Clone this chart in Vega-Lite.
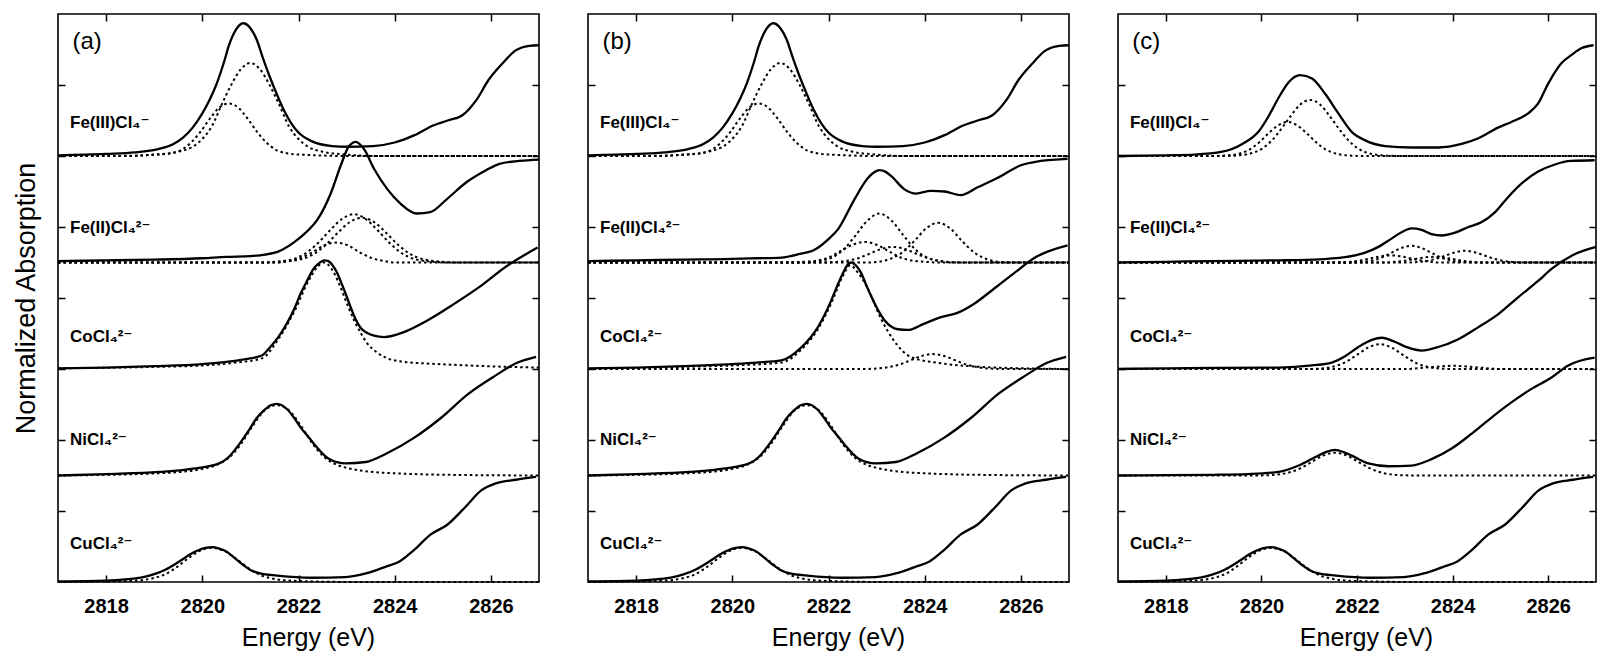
{
"$schema":"https://vega.github.io/schema/vega-lite/v6.json",
"background":"white",
"padding":{"left":11,"top":12,"right":0,"bottom":0},
"spacing":37,
"datasets":{
"solid":[
{"p":"ab","s":"FeIII","e":2817,"v":6.01},{"p":"ab","s":"FeIII","e":2818,"v":6.03},{"p":"ab","s":"FeIII","e":2818.6,"v":6.05},{"p":"ab","s":"FeIII","e":2819.1,"v":6.1},{"p":"ab","s":"FeIII","e":2819.4,"v":6.17},{"p":"ab","s":"FeIII","e":2819.6,"v":6.26},{"p":"ab","s":"FeIII","e":2819.8,"v":6.4},{"p":"ab","s":"FeIII","e":2820,"v":6.6},{"p":"ab","s":"FeIII","e":2820.15,"v":6.79},{"p":"ab","s":"FeIII","e":2820.3,"v":7.02},{"p":"ab","s":"FeIII","e":2820.45,"v":7.32},{"p":"ab","s":"FeIII","e":2820.55,"v":7.55},{"p":"ab","s":"FeIII","e":2820.7,"v":7.78},{"p":"ab","s":"FeIII","e":2820.85,"v":7.87},{"p":"ab","s":"FeIII","e":2821,"v":7.8},{"p":"ab","s":"FeIII","e":2821.13,"v":7.64},{"p":"ab","s":"FeIII","e":2821.25,"v":7.4},{"p":"ab","s":"FeIII","e":2821.4,"v":7.12},{"p":"ab","s":"FeIII","e":2821.55,"v":6.87},{"p":"ab","s":"FeIII","e":2821.7,"v":6.64},{"p":"ab","s":"FeIII","e":2821.85,"v":6.46},{"p":"ab","s":"FeIII","e":2822,"v":6.33},{"p":"ab","s":"FeIII","e":2822.27,"v":6.21},{"p":"ab","s":"FeIII","e":2822.7,"v":6.14},{"p":"ab","s":"FeIII","e":2823,"v":6.13},{"p":"ab","s":"FeIII","e":2823.55,"v":6.14},{"p":"ab","s":"FeIII","e":2824,"v":6.19},{"p":"ab","s":"FeIII","e":2824.4,"v":6.29},{"p":"ab","s":"FeIII","e":2824.8,"v":6.43},{"p":"ab","s":"FeIII","e":2825.1,"v":6.5},{"p":"ab","s":"FeIII","e":2825.4,"v":6.57},{"p":"ab","s":"FeIII","e":2825.7,"v":6.79},{"p":"ab","s":"FeIII","e":2825.95,"v":7.07},{"p":"ab","s":"FeIII","e":2826.25,"v":7.31},{"p":"ab","s":"FeIII","e":2826.5,"v":7.48},{"p":"ab","s":"FeIII","e":2826.8,"v":7.55},{"p":"ab","s":"FeIII","e":2827,"v":7.56},
{"p":"a","s":"FeII","e":2817,"v":4.52},{"p":"a","s":"FeII","e":2818,"v":4.53},{"p":"a","s":"FeII","e":2819,"v":4.54},{"p":"a","s":"FeII","e":2820,"v":4.56},{"p":"a","s":"FeII","e":2820.5,"v":4.58},{"p":"a","s":"FeII","e":2821,"v":4.59},{"p":"a","s":"FeII","e":2821.3,"v":4.61},{"p":"a","s":"FeII","e":2821.6,"v":4.66},{"p":"a","s":"FeII","e":2821.92,"v":4.79},{"p":"a","s":"FeII","e":2822.15,"v":4.92},{"p":"a","s":"FeII","e":2822.4,"v":5.11},{"p":"a","s":"FeII","e":2822.68,"v":5.49},{"p":"a","s":"FeII","e":2822.88,"v":5.87},{"p":"a","s":"FeII","e":2823.05,"v":6.14},{"p":"a","s":"FeII","e":2823.19,"v":6.2},{"p":"a","s":"FeII","e":2823.36,"v":6.1},{"p":"a","s":"FeII","e":2823.57,"v":5.82},{"p":"a","s":"FeII","e":2823.85,"v":5.53},{"p":"a","s":"FeII","e":2824.12,"v":5.33},{"p":"a","s":"FeII","e":2824.46,"v":5.19},{"p":"a","s":"FeII","e":2824.74,"v":5.21},{"p":"a","s":"FeII","e":2825.08,"v":5.39},{"p":"a","s":"FeII","e":2825.49,"v":5.63},{"p":"a","s":"FeII","e":2825.9,"v":5.8},{"p":"a","s":"FeII","e":2826.18,"v":5.89},{"p":"a","s":"FeII","e":2826.59,"v":5.93},{"p":"a","s":"FeII","e":2827,"v":5.95},
{"p":"a","s":"Co","e":2817,"v":3.01},{"p":"a","s":"Co","e":2818,"v":3.02},{"p":"a","s":"Co","e":2819,"v":3.04},{"p":"a","s":"Co","e":2820,"v":3.07},{"p":"a","s":"Co","e":2820.5,"v":3.1},{"p":"a","s":"Co","e":2820.9,"v":3.14},{"p":"a","s":"Co","e":2821.24,"v":3.19},{"p":"a","s":"Co","e":2821.4,"v":3.3},{"p":"a","s":"Co","e":2821.58,"v":3.45},{"p":"a","s":"Co","e":2821.92,"v":3.86},{"p":"a","s":"Co","e":2822.05,"v":4.07},{"p":"a","s":"Co","e":2822.2,"v":4.27},{"p":"a","s":"Co","e":2822.3,"v":4.4},{"p":"a","s":"Co","e":2822.41,"v":4.48},{"p":"a","s":"Co","e":2822.54,"v":4.53},{"p":"a","s":"Co","e":2822.62,"v":4.52},{"p":"a","s":"Co","e":2822.71,"v":4.46},{"p":"a","s":"Co","e":2822.8,"v":4.36},{"p":"a","s":"Co","e":2822.88,"v":4.23},{"p":"a","s":"Co","e":2822.98,"v":4.06},{"p":"a","s":"Co","e":2823.09,"v":3.86},{"p":"a","s":"Co","e":2823.18,"v":3.71},{"p":"a","s":"Co","e":2823.29,"v":3.58},{"p":"a","s":"Co","e":2823.42,"v":3.51},{"p":"a","s":"Co","e":2823.57,"v":3.47},{"p":"a","s":"Co","e":2823.78,"v":3.45},{"p":"a","s":"Co","e":2824.19,"v":3.52},{"p":"a","s":"Co","e":2824.67,"v":3.68},{"p":"a","s":"Co","e":2825.22,"v":3.91},{"p":"a","s":"Co","e":2825.77,"v":4.16},{"p":"a","s":"Co","e":2826.31,"v":4.44},{"p":"a","s":"Co","e":2826.97,"v":4.71},
{"p":"ab","s":"Ni","e":2817,"v":1.5},{"p":"ab","s":"Ni","e":2818,"v":1.52},{"p":"ab","s":"Ni","e":2819.1,"v":1.55},{"p":"ab","s":"Ni","e":2819.85,"v":1.6},{"p":"ab","s":"Ni","e":2820.35,"v":1.67},{"p":"ab","s":"Ni","e":2820.55,"v":1.76},{"p":"ab","s":"Ni","e":2820.7,"v":1.88},{"p":"ab","s":"Ni","e":2820.85,"v":2.02},{"p":"ab","s":"Ni","e":2821,"v":2.17},{"p":"ab","s":"Ni","e":2821.12,"v":2.3},{"p":"ab","s":"Ni","e":2821.27,"v":2.41},{"p":"ab","s":"Ni","e":2821.42,"v":2.49},{"p":"ab","s":"Ni","e":2821.55,"v":2.51},{"p":"ab","s":"Ni","e":2821.77,"v":2.43},{"p":"ab","s":"Ni","e":2821.9,"v":2.32},{"p":"ab","s":"Ni","e":2822.05,"v":2.17},{"p":"ab","s":"Ni","e":2822.2,"v":2.05},{"p":"ab","s":"Ni","e":2822.34,"v":1.93},{"p":"ab","s":"Ni","e":2822.62,"v":1.74},{"p":"ab","s":"Ni","e":2822.98,"v":1.67},{"p":"ab","s":"Ni","e":2823.4,"v":1.69},{"p":"ab","s":"Ni","e":2823.83,"v":1.81},{"p":"ab","s":"Ni","e":2824.4,"v":2.03},{"p":"ab","s":"Ni","e":2824.96,"v":2.31},{"p":"ab","s":"Ni","e":2825.53,"v":2.65},{"p":"ab","s":"Ni","e":2826.1,"v":2.91},{"p":"ab","s":"Ni","e":2826.52,"v":3.08},{"p":"ab","s":"Ni","e":2826.94,"v":3.17},
{"p":"abc","s":"Cu","e":2817,"v":0.01},{"p":"abc","s":"Cu","e":2818,"v":0.02},{"p":"abc","s":"Cu","e":2818.72,"v":0.06},{"p":"abc","s":"Cu","e":2819,"v":0.11},{"p":"abc","s":"Cu","e":2819.22,"v":0.17},{"p":"abc","s":"Cu","e":2819.57,"v":0.31},{"p":"abc","s":"Cu","e":2819.75,"v":0.39},{"p":"abc","s":"Cu","e":2819.93,"v":0.45},{"p":"abc","s":"Cu","e":2820.07,"v":0.48},{"p":"abc","s":"Cu","e":2820.21,"v":0.49},{"p":"abc","s":"Cu","e":2820.35,"v":0.47},{"p":"abc","s":"Cu","e":2820.5,"v":0.43},{"p":"abc","s":"Cu","e":2820.67,"v":0.34},{"p":"abc","s":"Cu","e":2820.85,"v":0.24},{"p":"abc","s":"Cu","e":2821,"v":0.17},{"p":"abc","s":"Cu","e":2821.2,"v":0.12},{"p":"abc","s":"Cu","e":2821.56,"v":0.09},{"p":"abc","s":"Cu","e":2822.27,"v":0.06},{"p":"abc","s":"Cu","e":2822.98,"v":0.07},{"p":"abc","s":"Cu","e":2823.4,"v":0.12},{"p":"abc","s":"Cu","e":2823.83,"v":0.22},{"p":"abc","s":"Cu","e":2824.1,"v":0.29},{"p":"abc","s":"Cu","e":2824.4,"v":0.45},{"p":"abc","s":"Cu","e":2824.75,"v":0.67},{"p":"abc","s":"Cu","e":2825.1,"v":0.81},{"p":"abc","s":"Cu","e":2825.46,"v":1.05},{"p":"abc","s":"Cu","e":2825.8,"v":1.29},{"p":"abc","s":"Cu","e":2826.1,"v":1.39},{"p":"abc","s":"Cu","e":2826.52,"v":1.44},{"p":"abc","s":"Cu","e":2826.94,"v":1.48},
{"p":"b","s":"FeII","e":2817,"v":4.52},{"p":"b","s":"FeII","e":2818,"v":4.53},{"p":"b","s":"FeII","e":2819,"v":4.54},{"p":"b","s":"FeII","e":2820,"v":4.55},{"p":"b","s":"FeII","e":2820.5,"v":4.56},{"p":"b","s":"FeII","e":2821.02,"v":4.57},{"p":"b","s":"FeII","e":2821.4,"v":4.62},{"p":"b","s":"FeII","e":2821.71,"v":4.68},{"p":"b","s":"FeII","e":2822,"v":4.83},{"p":"b","s":"FeII","e":2822.2,"v":4.97},{"p":"b","s":"FeII","e":2822.54,"v":5.39},{"p":"b","s":"FeII","e":2822.82,"v":5.69},{"p":"b","s":"FeII","e":2822.95,"v":5.77},{"p":"b","s":"FeII","e":2823.06,"v":5.8},{"p":"b","s":"FeII","e":2823.18,"v":5.78},{"p":"b","s":"FeII","e":2823.3,"v":5.72},{"p":"b","s":"FeII","e":2823.58,"v":5.53},{"p":"b","s":"FeII","e":2823.82,"v":5.47},{"p":"b","s":"FeII","e":2824.13,"v":5.51},{"p":"b","s":"FeII","e":2824.41,"v":5.5},{"p":"b","s":"FeII","e":2824.75,"v":5.45},{"p":"b","s":"FeII","e":2825.1,"v":5.56},{"p":"b","s":"FeII","e":2825.51,"v":5.69},{"p":"b","s":"FeII","e":2826,"v":5.87},{"p":"b","s":"FeII","e":2826.41,"v":5.93},{"p":"b","s":"FeII","e":2826.97,"v":5.96},
{"p":"b","s":"Co","e":2817,"v":3.01},{"p":"b","s":"Co","e":2818,"v":3.02},{"p":"b","s":"Co","e":2819,"v":3.04},{"p":"b","s":"Co","e":2820,"v":3.07},{"p":"b","s":"Co","e":2820.5,"v":3.09},{"p":"b","s":"Co","e":2821.02,"v":3.12},{"p":"b","s":"Co","e":2821.43,"v":3.3},{"p":"b","s":"Co","e":2821.78,"v":3.59},{"p":"b","s":"Co","e":2822.06,"v":3.97},{"p":"b","s":"Co","e":2822.18,"v":4.17},{"p":"b","s":"Co","e":2822.3,"v":4.35},{"p":"b","s":"Co","e":2822.38,"v":4.45},{"p":"b","s":"Co","e":2822.47,"v":4.5},{"p":"b","s":"Co","e":2822.58,"v":4.45},{"p":"b","s":"Co","e":2822.68,"v":4.35},{"p":"b","s":"Co","e":2822.78,"v":4.19},{"p":"b","s":"Co","e":2822.89,"v":4.02},{"p":"b","s":"Co","e":2823.16,"v":3.69},{"p":"b","s":"Co","e":2823.44,"v":3.56},{"p":"b","s":"Co","e":2823.65,"v":3.55},{"p":"b","s":"Co","e":2823.99,"v":3.64},{"p":"b","s":"Co","e":2824.34,"v":3.73},{"p":"b","s":"Co","e":2824.68,"v":3.79},{"p":"b","s":"Co","e":2825.03,"v":3.92},{"p":"b","s":"Co","e":2825.44,"v":4.13},{"p":"b","s":"Co","e":2825.86,"v":4.35},{"p":"b","s":"Co","e":2826.27,"v":4.56},{"p":"b","s":"Co","e":2826.97,"v":4.74},
{"p":"c","s":"FeIII","e":2817,"v":6},{"p":"c","s":"FeIII","e":2818,"v":6.01},{"p":"c","s":"FeIII","e":2818.6,"v":6.02},{"p":"c","s":"FeIII","e":2819.18,"v":6.06},{"p":"c","s":"FeIII","e":2819.6,"v":6.17},{"p":"c","s":"FeIII","e":2819.96,"v":6.36},{"p":"c","s":"FeIII","e":2820.15,"v":6.56},{"p":"c","s":"FeIII","e":2820.36,"v":6.82},{"p":"c","s":"FeIII","e":2820.57,"v":7.04},{"p":"c","s":"FeIII","e":2820.81,"v":7.14},{"p":"c","s":"FeIII","e":2821.06,"v":7.09},{"p":"c","s":"FeIII","e":2821.33,"v":6.88},{"p":"c","s":"FeIII","e":2821.61,"v":6.6},{"p":"c","s":"FeIII","e":2821.89,"v":6.34},{"p":"c","s":"FeIII","e":2822.17,"v":6.22},{"p":"c","s":"FeIII","e":2822.59,"v":6.14},{"p":"c","s":"FeIII","e":2823.14,"v":6.12},{"p":"c","s":"FeIII","e":2823.7,"v":6.12},{"p":"c","s":"FeIII","e":2824.19,"v":6.17},{"p":"c","s":"FeIII","e":2824.54,"v":6.25},{"p":"c","s":"FeIII","e":2824.95,"v":6.4},{"p":"c","s":"FeIII","e":2825.23,"v":6.48},{"p":"c","s":"FeIII","e":2825.58,"v":6.6},{"p":"c","s":"FeIII","e":2825.79,"v":6.74},{"p":"c","s":"FeIII","e":2826,"v":7.02},{"p":"c","s":"FeIII","e":2826.28,"v":7.31},{"p":"c","s":"FeIII","e":2826.48,"v":7.42},{"p":"c","s":"FeIII","e":2826.7,"v":7.52},{"p":"c","s":"FeIII","e":2826.95,"v":7.56},
{"p":"c","s":"FeII","e":2817,"v":4.5},{"p":"c","s":"FeII","e":2818,"v":4.51},{"p":"c","s":"FeII","e":2819,"v":4.52},{"p":"c","s":"FeII","e":2820.36,"v":4.53},{"p":"c","s":"FeII","e":2821.06,"v":4.54},{"p":"c","s":"FeII","e":2821.75,"v":4.575},{"p":"c","s":"FeII","e":2822.17,"v":4.64},{"p":"c","s":"FeII","e":2822.45,"v":4.72},{"p":"c","s":"FeII","e":2822.73,"v":4.84},{"p":"c","s":"FeII","e":2822.94,"v":4.93},{"p":"c","s":"FeII","e":2823.14,"v":4.98},{"p":"c","s":"FeII","e":2823.35,"v":4.96},{"p":"c","s":"FeII","e":2823.56,"v":4.9},{"p":"c","s":"FeII","e":2823.77,"v":4.88},{"p":"c","s":"FeII","e":2824.05,"v":4.92},{"p":"c","s":"FeII","e":2824.33,"v":5},{"p":"c","s":"FeII","e":2824.61,"v":5.07},{"p":"c","s":"FeII","e":2824.89,"v":5.21},{"p":"c","s":"FeII","e":2825.16,"v":5.42},{"p":"c","s":"FeII","e":2825.44,"v":5.61},{"p":"c","s":"FeII","e":2825.79,"v":5.78},{"p":"c","s":"FeII","e":2826.14,"v":5.88},{"p":"c","s":"FeII","e":2826.48,"v":5.93},{"p":"c","s":"FeII","e":2826.97,"v":5.94},
{"p":"c","s":"Co","e":2817,"v":3},{"p":"c","s":"Co","e":2818,"v":3.01},{"p":"c","s":"Co","e":2819,"v":3.015},{"p":"c","s":"Co","e":2820.36,"v":3.02},{"p":"c","s":"Co","e":2821.06,"v":3.05},{"p":"c","s":"Co","e":2821.47,"v":3.09},{"p":"c","s":"Co","e":2821.75,"v":3.18},{"p":"c","s":"Co","e":2822.03,"v":3.31},{"p":"c","s":"Co","e":2822.31,"v":3.41},{"p":"c","s":"Co","e":2822.52,"v":3.44},{"p":"c","s":"Co","e":2822.8,"v":3.38},{"p":"c","s":"Co","e":2823.07,"v":3.3},{"p":"c","s":"Co","e":2823.35,"v":3.26},{"p":"c","s":"Co","e":2823.7,"v":3.31},{"p":"c","s":"Co","e":2824.12,"v":3.42},{"p":"c","s":"Co","e":2824.54,"v":3.59},{"p":"c","s":"Co","e":2824.95,"v":3.77},{"p":"c","s":"Co","e":2825.37,"v":4.01},{"p":"c","s":"Co","e":2825.79,"v":4.24},{"p":"c","s":"Co","e":2826.07,"v":4.41},{"p":"c","s":"Co","e":2826.5,"v":4.6},{"p":"c","s":"Co","e":2827,"v":4.72},
{"p":"c","s":"Ni","e":2817,"v":1.5},{"p":"c","s":"Ni","e":2818,"v":1.505},{"p":"c","s":"Ni","e":2819,"v":1.51},{"p":"c","s":"Ni","e":2819.7,"v":1.52},{"p":"c","s":"Ni","e":2820.36,"v":1.55},{"p":"c","s":"Ni","e":2820.78,"v":1.64},{"p":"c","s":"Ni","e":2821.13,"v":1.76},{"p":"c","s":"Ni","e":2821.35,"v":1.83},{"p":"c","s":"Ni","e":2821.54,"v":1.86},{"p":"c","s":"Ni","e":2821.72,"v":1.83},{"p":"c","s":"Ni","e":2821.89,"v":1.78},{"p":"c","s":"Ni","e":2822.24,"v":1.67},{"p":"c","s":"Ni","e":2822.66,"v":1.63},{"p":"c","s":"Ni","e":2823.14,"v":1.64},{"p":"c","s":"Ni","e":2823.56,"v":1.73},{"p":"c","s":"Ni","e":2823.98,"v":1.88},{"p":"c","s":"Ni","e":2824.4,"v":2.09},{"p":"c","s":"Ni","e":2824.82,"v":2.32},{"p":"c","s":"Ni","e":2825.23,"v":2.53},{"p":"c","s":"Ni","e":2825.65,"v":2.72},{"p":"c","s":"Ni","e":2826.07,"v":2.88},{"p":"c","s":"Ni","e":2826.42,"v":3.05},{"p":"c","s":"Ni","e":2826.97,"v":3.16}
],
"comps":[
{"p":"ab","c":"FeIII1","e":2817,"v":6},{"p":"ab","c":"FeIII1","e":2818.05,"v":6},{"p":"ab","c":"FeIII1","e":2818.75,"v":6.01},{"p":"ab","c":"FeIII1","e":2819.25,"v":6.03},{"p":"ab","c":"FeIII1","e":2819.55,"v":6.08},{"p":"ab","c":"FeIII1","e":2819.75,"v":6.18},{"p":"ab","c":"FeIII1","e":2819.95,"v":6.33},{"p":"ab","c":"FeIII1","e":2820.15,"v":6.52},{"p":"ab","c":"FeIII1","e":2820.35,"v":6.68},{"p":"ab","c":"FeIII1","e":2820.55,"v":6.74},{"p":"ab","c":"FeIII1","e":2820.75,"v":6.68},{"p":"ab","c":"FeIII1","e":2820.95,"v":6.52},{"p":"ab","c":"FeIII1","e":2821.15,"v":6.33},{"p":"ab","c":"FeIII1","e":2821.35,"v":6.18},{"p":"ab","c":"FeIII1","e":2821.55,"v":6.08},{"p":"ab","c":"FeIII1","e":2821.85,"v":6.03},{"p":"ab","c":"FeIII1","e":2822.35,"v":6.01},{"p":"ab","c":"FeIII1","e":2823.05,"v":6},{"p":"ab","c":"FeIII1","e":2827,"v":6},
{"p":"ab","c":"FeIII2","e":2817,"v":6},{"p":"ab","c":"FeIII2","e":2818.5,"v":6},{"p":"ab","c":"FeIII2","e":2819,"v":6.02},{"p":"ab","c":"FeIII2","e":2819.5,"v":6.06},{"p":"ab","c":"FeIII2","e":2819.8,"v":6.13},{"p":"ab","c":"FeIII2","e":2820,"v":6.24},{"p":"ab","c":"FeIII2","e":2820.2,"v":6.42},{"p":"ab","c":"FeIII2","e":2820.4,"v":6.72},{"p":"ab","c":"FeIII2","e":2820.6,"v":7},{"p":"ab","c":"FeIII2","e":2820.8,"v":7.22},{"p":"ab","c":"FeIII2","e":2821,"v":7.31},{"p":"ab","c":"FeIII2","e":2821.2,"v":7.22},{"p":"ab","c":"FeIII2","e":2821.4,"v":7},{"p":"ab","c":"FeIII2","e":2821.6,"v":6.72},{"p":"ab","c":"FeIII2","e":2821.8,"v":6.42},{"p":"ab","c":"FeIII2","e":2822,"v":6.24},{"p":"ab","c":"FeIII2","e":2822.2,"v":6.13},{"p":"ab","c":"FeIII2","e":2822.5,"v":6.06},{"p":"ab","c":"FeIII2","e":2823,"v":6.02},{"p":"ab","c":"FeIII2","e":2823.5,"v":6},{"p":"ab","c":"FeIII2","e":2827,"v":6},
{"p":"a","c":"FeIIA","e":2817,"v":4.5},{"p":"a","c":"FeIIA","e":2821.15,"v":4.5},{"p":"a","c":"FeIIA","e":2821.65,"v":4.52},{"p":"a","c":"FeIIA","e":2821.9,"v":4.55},{"p":"a","c":"FeIIA","e":2822.15,"v":4.63},{"p":"a","c":"FeIIA","e":2822.4,"v":4.77},{"p":"a","c":"FeIIA","e":2822.65,"v":4.95},{"p":"a","c":"FeIIA","e":2822.9,"v":5.11},{"p":"a","c":"FeIIA","e":2823.15,"v":5.18},{"p":"a","c":"FeIIA","e":2823.4,"v":5.11},{"p":"a","c":"FeIIA","e":2823.65,"v":4.95},{"p":"a","c":"FeIIA","e":2823.9,"v":4.77},{"p":"a","c":"FeIIA","e":2824.15,"v":4.63},{"p":"a","c":"FeIIA","e":2824.4,"v":4.55},{"p":"a","c":"FeIIA","e":2824.65,"v":4.52},{"p":"a","c":"FeIIA","e":2825.15,"v":4.5},{"p":"a","c":"FeIIA","e":2827,"v":4.5},
{"p":"a","c":"FeIIB","e":2817,"v":4.5},{"p":"a","c":"FeIIB","e":2821.32,"v":4.5},{"p":"a","c":"FeIIB","e":2821.82,"v":4.52},{"p":"a","c":"FeIIB","e":2822.07,"v":4.55},{"p":"a","c":"FeIIB","e":2822.32,"v":4.62},{"p":"a","c":"FeIIB","e":2822.57,"v":4.75},{"p":"a","c":"FeIIB","e":2822.82,"v":4.92},{"p":"a","c":"FeIIB","e":2823.07,"v":5.07},{"p":"a","c":"FeIIB","e":2823.32,"v":5.13},{"p":"a","c":"FeIIB","e":2823.57,"v":5.07},{"p":"a","c":"FeIIB","e":2823.82,"v":4.92},{"p":"a","c":"FeIIB","e":2824.07,"v":4.75},{"p":"a","c":"FeIIB","e":2824.32,"v":4.62},{"p":"a","c":"FeIIB","e":2824.57,"v":4.55},{"p":"a","c":"FeIIB","e":2824.82,"v":4.52},{"p":"a","c":"FeIIB","e":2825.32,"v":4.5},{"p":"a","c":"FeIIB","e":2827,"v":4.5},
{"p":"a","c":"FeIIC","e":2817,"v":4.5},{"p":"a","c":"FeIIC","e":2821.53,"v":4.5},{"p":"a","c":"FeIIC","e":2821.78,"v":4.52},{"p":"a","c":"FeIIC","e":2822.03,"v":4.56},{"p":"a","c":"FeIIC","e":2822.28,"v":4.64},{"p":"a","c":"FeIIC","e":2822.53,"v":4.74},{"p":"a","c":"FeIIC","e":2822.78,"v":4.78},{"p":"a","c":"FeIIC","e":2823.03,"v":4.74},{"p":"a","c":"FeIIC","e":2823.28,"v":4.64},{"p":"a","c":"FeIIC","e":2823.53,"v":4.56},{"p":"a","c":"FeIIC","e":2823.78,"v":4.52},{"p":"a","c":"FeIIC","e":2824.03,"v":4.5},{"p":"a","c":"FeIIC","e":2827,"v":4.5},
{"p":"a","c":"Co1","e":2817,"v":3.01},{"p":"a","c":"Co1","e":2819,"v":3.03},{"p":"a","c":"Co1","e":2820,"v":3.05},{"p":"a","c":"Co1","e":2820.7,"v":3.09},{"p":"a","c":"Co1","e":2821.24,"v":3.15},{"p":"a","c":"Co1","e":2821.58,"v":3.42},{"p":"a","c":"Co1","e":2821.92,"v":3.82},{"p":"a","c":"Co1","e":2822.2,"v":4.23},{"p":"a","c":"Co1","e":2822.41,"v":4.45},{"p":"a","c":"Co1","e":2822.52,"v":4.5},{"p":"a","c":"Co1","e":2822.63,"v":4.46},{"p":"a","c":"Co1","e":2822.75,"v":4.34},{"p":"a","c":"Co1","e":2822.88,"v":4.14},{"p":"a","c":"Co1","e":2823.02,"v":3.9},{"p":"a","c":"Co1","e":2823.16,"v":3.68},{"p":"a","c":"Co1","e":2823.3,"v":3.5},{"p":"a","c":"Co1","e":2823.43,"v":3.36},{"p":"a","c":"Co1","e":2823.6,"v":3.25},{"p":"a","c":"Co1","e":2823.85,"v":3.15},{"p":"a","c":"Co1","e":2824.2,"v":3.1},{"p":"a","c":"Co1","e":2824.6,"v":3.08},{"p":"a","c":"Co1","e":2825.2,"v":3.06},{"p":"a","c":"Co1","e":2825.9,"v":3.04},{"p":"a","c":"Co1","e":2827,"v":3.02},
{"p":"ab","c":"Ni","e":2817,"v":1.5},{"p":"ab","c":"Ni","e":2818.05,"v":1.51},{"p":"ab","c":"Ni","e":2819.05,"v":1.53},{"p":"ab","c":"Ni","e":2819.55,"v":1.55},{"p":"ab","c":"Ni","e":2820.05,"v":1.6},{"p":"ab","c":"Ni","e":2820.3,"v":1.65},{"p":"ab","c":"Ni","e":2820.55,"v":1.75},{"p":"ab","c":"Ni","e":2820.8,"v":1.94},{"p":"ab","c":"Ni","e":2821.05,"v":2.2},{"p":"ab","c":"Ni","e":2821.3,"v":2.42},{"p":"ab","c":"Ni","e":2821.55,"v":2.49},{"p":"ab","c":"Ni","e":2821.8,"v":2.42},{"p":"ab","c":"Ni","e":2822.05,"v":2.2},{"p":"ab","c":"Ni","e":2822.3,"v":1.94},{"p":"ab","c":"Ni","e":2822.55,"v":1.75},{"p":"ab","c":"Ni","e":2822.8,"v":1.65},{"p":"ab","c":"Ni","e":2823.05,"v":1.6},{"p":"ab","c":"Ni","e":2823.55,"v":1.55},{"p":"ab","c":"Ni","e":2824.05,"v":1.53},{"p":"ab","c":"Ni","e":2825.05,"v":1.51},{"p":"ab","c":"Ni","e":2827,"v":1.5},
{"p":"abc","c":"Cu","e":2817,"v":0},{"p":"abc","c":"Cu","e":2818.2,"v":0.01},{"p":"abc","c":"Cu","e":2818.7,"v":0.025},{"p":"abc","c":"Cu","e":2818.95,"v":0.05},{"p":"abc","c":"Cu","e":2819.2,"v":0.1},{"p":"abc","c":"Cu","e":2819.45,"v":0.2},{"p":"abc","c":"Cu","e":2819.7,"v":0.33},{"p":"abc","c":"Cu","e":2819.95,"v":0.44},{"p":"abc","c":"Cu","e":2820.2,"v":0.48},{"p":"abc","c":"Cu","e":2820.45,"v":0.44},{"p":"abc","c":"Cu","e":2820.7,"v":0.33},{"p":"abc","c":"Cu","e":2820.95,"v":0.2},{"p":"abc","c":"Cu","e":2821.2,"v":0.1},{"p":"abc","c":"Cu","e":2821.45,"v":0.05},{"p":"abc","c":"Cu","e":2821.7,"v":0.025},{"p":"abc","c":"Cu","e":2822.2,"v":0.01},{"p":"abc","c":"Cu","e":2823.2,"v":0},{"p":"abc","c":"Cu","e":2827,"v":0},
{"p":"b","c":"FeIIA","e":2817,"v":4.5},{"p":"b","c":"FeIIA","e":2821.56,"v":4.5},{"p":"b","c":"FeIIA","e":2821.81,"v":4.52},{"p":"b","c":"FeIIA","e":2822.06,"v":4.565},{"p":"b","c":"FeIIA","e":2822.31,"v":4.68},{"p":"b","c":"FeIIA","e":2822.56,"v":4.88},{"p":"b","c":"FeIIA","e":2822.81,"v":5.09},{"p":"b","c":"FeIIA","e":2823.06,"v":5.19},{"p":"b","c":"FeIIA","e":2823.31,"v":5.09},{"p":"b","c":"FeIIA","e":2823.56,"v":4.88},{"p":"b","c":"FeIIA","e":2823.81,"v":4.68},{"p":"b","c":"FeIIA","e":2824.06,"v":4.565},{"p":"b","c":"FeIIA","e":2824.31,"v":4.52},{"p":"b","c":"FeIIA","e":2824.56,"v":4.5},{"p":"b","c":"FeIIA","e":2827,"v":4.5},
{"p":"b","c":"FeIIB","e":2817,"v":4.5},{"p":"b","c":"FeIIB","e":2822.78,"v":4.5},{"p":"b","c":"FeIIB","e":2823.03,"v":4.51},{"p":"b","c":"FeIIB","e":2823.28,"v":4.55},{"p":"b","c":"FeIIB","e":2823.53,"v":4.64},{"p":"b","c":"FeIIB","e":2823.78,"v":4.8},{"p":"b","c":"FeIIB","e":2824.03,"v":4.98},{"p":"b","c":"FeIIB","e":2824.28,"v":5.06},{"p":"b","c":"FeIIB","e":2824.53,"v":4.98},{"p":"b","c":"FeIIB","e":2824.78,"v":4.8},{"p":"b","c":"FeIIB","e":2825.03,"v":4.64},{"p":"b","c":"FeIIB","e":2825.28,"v":4.55},{"p":"b","c":"FeIIB","e":2825.53,"v":4.51},{"p":"b","c":"FeIIB","e":2825.78,"v":4.5},{"p":"b","c":"FeIIB","e":2827,"v":4.5},
{"p":"b","c":"FeIIC","e":2817,"v":4.5},{"p":"b","c":"FeIIC","e":2821.25,"v":4.5},{"p":"b","c":"FeIIC","e":2821.5,"v":4.51},{"p":"b","c":"FeIIC","e":2821.75,"v":4.525},{"p":"b","c":"FeIIC","e":2822,"v":4.57},{"p":"b","c":"FeIIC","e":2822.25,"v":4.66},{"p":"b","c":"FeIIC","e":2822.5,"v":4.75},{"p":"b","c":"FeIIC","e":2822.75,"v":4.79},{"p":"b","c":"FeIIC","e":2823,"v":4.75},{"p":"b","c":"FeIIC","e":2823.25,"v":4.66},{"p":"b","c":"FeIIC","e":2823.5,"v":4.57},{"p":"b","c":"FeIIC","e":2823.75,"v":4.525},{"p":"b","c":"FeIIC","e":2824,"v":4.51},{"p":"b","c":"FeIIC","e":2824.25,"v":4.5},{"p":"b","c":"FeIIC","e":2827,"v":4.5},
{"p":"b","c":"FeIID","e":2817,"v":4.5},{"p":"b","c":"FeIID","e":2821.84,"v":4.5},{"p":"b","c":"FeIID","e":2822.09,"v":4.505},{"p":"b","c":"FeIID","e":2822.34,"v":4.52},{"p":"b","c":"FeIID","e":2822.59,"v":4.555},{"p":"b","c":"FeIID","e":2822.84,"v":4.62},{"p":"b","c":"FeIID","e":2823.09,"v":4.69},{"p":"b","c":"FeIID","e":2823.34,"v":4.72},{"p":"b","c":"FeIID","e":2823.59,"v":4.69},{"p":"b","c":"FeIID","e":2823.84,"v":4.62},{"p":"b","c":"FeIID","e":2824.09,"v":4.555},{"p":"b","c":"FeIID","e":2824.34,"v":4.52},{"p":"b","c":"FeIID","e":2824.59,"v":4.505},{"p":"b","c":"FeIID","e":2824.84,"v":4.5},{"p":"b","c":"FeIID","e":2827,"v":4.5},
{"p":"b","c":"Co1","e":2817,"v":3},{"p":"b","c":"Co1","e":2819,"v":3.03},{"p":"b","c":"Co1","e":2820,"v":3.05},{"p":"b","c":"Co1","e":2821.02,"v":3.09},{"p":"b","c":"Co1","e":2821.43,"v":3.27},{"p":"b","c":"Co1","e":2821.78,"v":3.56},{"p":"b","c":"Co1","e":2822.06,"v":3.93},{"p":"b","c":"Co1","e":2822.3,"v":4.31},{"p":"b","c":"Co1","e":2822.45,"v":4.46},{"p":"b","c":"Co1","e":2822.62,"v":4.35},{"p":"b","c":"Co1","e":2822.82,"v":4.13},{"p":"b","c":"Co1","e":2823.09,"v":3.71},{"p":"b","c":"Co1","e":2823.37,"v":3.39},{"p":"b","c":"Co1","e":2823.71,"v":3.17},{"p":"b","c":"Co1","e":2824.34,"v":3.08},{"p":"b","c":"Co1","e":2825.17,"v":3.03},{"p":"b","c":"Co1","e":2826,"v":3.01},{"p":"b","c":"Co1","e":2827,"v":3},
{"p":"b","c":"Co2","e":2817,"v":3},{"p":"b","c":"Co2","e":2822.67,"v":3},{"p":"b","c":"Co2","e":2822.92,"v":3.004},{"p":"b","c":"Co2","e":2823.17,"v":3.018},{"p":"b","c":"Co2","e":2823.42,"v":3.052},{"p":"b","c":"Co2","e":2823.67,"v":3.113},{"p":"b","c":"Co2","e":2823.92,"v":3.18},{"p":"b","c":"Co2","e":2824.17,"v":3.21},{"p":"b","c":"Co2","e":2824.42,"v":3.18},{"p":"b","c":"Co2","e":2824.67,"v":3.113},{"p":"b","c":"Co2","e":2824.92,"v":3.052},{"p":"b","c":"Co2","e":2825.17,"v":3.018},{"p":"b","c":"Co2","e":2825.42,"v":3.004},{"p":"b","c":"Co2","e":2825.67,"v":3},{"p":"b","c":"Co2","e":2827,"v":3},
{"p":"c","c":"FeIII1","e":2817,"v":6},{"p":"c","c":"FeIII1","e":2818.95,"v":6},{"p":"c","c":"FeIII1","e":2819.25,"v":6.006},{"p":"c","c":"FeIII1","e":2819.55,"v":6.036},{"p":"c","c":"FeIII1","e":2819.75,"v":6.09},{"p":"c","c":"FeIII1","e":2819.95,"v":6.19},{"p":"c","c":"FeIII1","e":2820.15,"v":6.32},{"p":"c","c":"FeIII1","e":2820.35,"v":6.43},{"p":"c","c":"FeIII1","e":2820.55,"v":6.48},{"p":"c","c":"FeIII1","e":2820.75,"v":6.43},{"p":"c","c":"FeIII1","e":2820.95,"v":6.32},{"p":"c","c":"FeIII1","e":2821.15,"v":6.19},{"p":"c","c":"FeIII1","e":2821.35,"v":6.09},{"p":"c","c":"FeIII1","e":2821.55,"v":6.036},{"p":"c","c":"FeIII1","e":2821.85,"v":6.006},{"p":"c","c":"FeIII1","e":2822.15,"v":6},{"p":"c","c":"FeIII1","e":2827,"v":6},
{"p":"c","c":"FeIII2","e":2817,"v":6},{"p":"c","c":"FeIII2","e":2819.12,"v":6},{"p":"c","c":"FeIII2","e":2819.42,"v":6.005},{"p":"c","c":"FeIII2","e":2819.72,"v":6.027},{"p":"c","c":"FeIII2","e":2820.02,"v":6.107},{"p":"c","c":"FeIII2","e":2820.22,"v":6.22},{"p":"c","c":"FeIII2","e":2820.42,"v":6.385},{"p":"c","c":"FeIII2","e":2820.62,"v":6.57},{"p":"c","c":"FeIII2","e":2820.82,"v":6.73},{"p":"c","c":"FeIII2","e":2821.02,"v":6.79},{"p":"c","c":"FeIII2","e":2821.22,"v":6.73},{"p":"c","c":"FeIII2","e":2821.42,"v":6.57},{"p":"c","c":"FeIII2","e":2821.62,"v":6.385},{"p":"c","c":"FeIII2","e":2821.82,"v":6.22},{"p":"c","c":"FeIII2","e":2822.02,"v":6.107},{"p":"c","c":"FeIII2","e":2822.32,"v":6.027},{"p":"c","c":"FeIII2","e":2822.62,"v":6.005},{"p":"c","c":"FeIII2","e":2822.92,"v":6},{"p":"c","c":"FeIII2","e":2827,"v":6},
{"p":"c","c":"FeIIA","e":2817,"v":4.5},{"p":"c","c":"FeIIA","e":2821.74,"v":4.5},{"p":"c","c":"FeIIA","e":2821.94,"v":4.503},{"p":"c","c":"FeIIA","e":2822.14,"v":4.51},{"p":"c","c":"FeIIA","e":2822.34,"v":4.532},{"p":"c","c":"FeIIA","e":2822.54,"v":4.576},{"p":"c","c":"FeIIA","e":2822.74,"v":4.643},{"p":"c","c":"FeIIA","e":2822.94,"v":4.707},{"p":"c","c":"FeIIA","e":2823.14,"v":4.735},{"p":"c","c":"FeIIA","e":2823.34,"v":4.707},{"p":"c","c":"FeIIA","e":2823.54,"v":4.643},{"p":"c","c":"FeIIA","e":2823.74,"v":4.576},{"p":"c","c":"FeIIA","e":2823.94,"v":4.532},{"p":"c","c":"FeIIA","e":2824.14,"v":4.51},{"p":"c","c":"FeIIA","e":2824.34,"v":4.503},{"p":"c","c":"FeIIA","e":2824.54,"v":4.5},{"p":"c","c":"FeIIA","e":2827,"v":4.5},
{"p":"c","c":"FeIIB","e":2817,"v":4.5},{"p":"c","c":"FeIIB","e":2823.06,"v":4.5},{"p":"c","c":"FeIIB","e":2823.26,"v":4.507},{"p":"c","c":"FeIIB","e":2823.46,"v":4.522},{"p":"c","c":"FeIIB","e":2823.66,"v":4.554},{"p":"c","c":"FeIIB","e":2823.86,"v":4.6},{"p":"c","c":"FeIIB","e":2824.06,"v":4.645},{"p":"c","c":"FeIIB","e":2824.26,"v":4.665},{"p":"c","c":"FeIIB","e":2824.46,"v":4.645},{"p":"c","c":"FeIIB","e":2824.66,"v":4.6},{"p":"c","c":"FeIIB","e":2824.86,"v":4.554},{"p":"c","c":"FeIIB","e":2825.06,"v":4.522},{"p":"c","c":"FeIIB","e":2825.26,"v":4.507},{"p":"c","c":"FeIIB","e":2825.46,"v":4.5},{"p":"c","c":"FeIIB","e":2827,"v":4.5},
{"p":"c","c":"FeIIC","e":2817,"v":4.5},{"p":"c","c":"FeIIC","e":2821.7,"v":4.5},{"p":"c","c":"FeIIC","e":2821.9,"v":4.513},{"p":"c","c":"FeIIC","e":2822.1,"v":4.533},{"p":"c","c":"FeIIC","e":2822.3,"v":4.561},{"p":"c","c":"FeIIC","e":2822.5,"v":4.588},{"p":"c","c":"FeIIC","e":2822.7,"v":4.6},{"p":"c","c":"FeIIC","e":2822.9,"v":4.588},{"p":"c","c":"FeIIC","e":2823.1,"v":4.561},{"p":"c","c":"FeIIC","e":2823.3,"v":4.533},{"p":"c","c":"FeIIC","e":2823.5,"v":4.513},{"p":"c","c":"FeIIC","e":2823.7,"v":4.5},{"p":"c","c":"FeIIC","e":2827,"v":4.5},
{"p":"c","c":"FeIID","e":2817,"v":4.5},{"p":"c","c":"FeIID","e":2822.6,"v":4.5},{"p":"c","c":"FeIID","e":2822.8,"v":4.511},{"p":"c","c":"FeIID","e":2823,"v":4.526},{"p":"c","c":"FeIID","e":2823.2,"v":4.549},{"p":"c","c":"FeIID","e":2823.4,"v":4.57},{"p":"c","c":"FeIID","e":2823.6,"v":4.58},{"p":"c","c":"FeIID","e":2823.8,"v":4.57},{"p":"c","c":"FeIID","e":2824,"v":4.549},{"p":"c","c":"FeIID","e":2824.2,"v":4.526},{"p":"c","c":"FeIID","e":2824.4,"v":4.511},{"p":"c","c":"FeIID","e":2824.6,"v":4.5},{"p":"c","c":"FeIID","e":2827,"v":4.5},
{"p":"c","c":"Co1","e":2817,"v":3},{"p":"c","c":"Co1","e":2820.98,"v":3},{"p":"c","c":"Co1","e":2821.23,"v":3.007},{"p":"c","c":"Co1","e":2821.48,"v":3.03},{"p":"c","c":"Co1","e":2821.73,"v":3.087},{"p":"c","c":"Co1","e":2821.98,"v":3.19},{"p":"c","c":"Co1","e":2822.23,"v":3.3},{"p":"c","c":"Co1","e":2822.48,"v":3.35},{"p":"c","c":"Co1","e":2822.73,"v":3.3},{"p":"c","c":"Co1","e":2822.98,"v":3.19},{"p":"c","c":"Co1","e":2823.23,"v":3.087},{"p":"c","c":"Co1","e":2823.48,"v":3.03},{"p":"c","c":"Co1","e":2823.73,"v":3.007},{"p":"c","c":"Co1","e":2823.98,"v":3},{"p":"c","c":"Co1","e":2827,"v":3},
{"p":"c","c":"Co2","e":2817,"v":3},{"p":"c","c":"Co2","e":2823,"v":3},{"p":"c","c":"Co2","e":2823.5,"v":3.024},{"p":"c","c":"Co2","e":2824,"v":3.045},{"p":"c","c":"Co2","e":2824.5,"v":3.024},{"p":"c","c":"Co2","e":2825,"v":3},{"p":"c","c":"Co2","e":2827,"v":3},
{"p":"c","c":"Ni","e":2817,"v":1.5},{"p":"c","c":"Ni","e":2819.79,"v":1.5},{"p":"c","c":"Ni","e":2820.04,"v":1.502},{"p":"c","c":"Ni","e":2820.29,"v":1.511},{"p":"c","c":"Ni","e":2820.54,"v":1.536},{"p":"c","c":"Ni","e":2820.79,"v":1.594},{"p":"c","c":"Ni","e":2821.04,"v":1.686},{"p":"c","c":"Ni","e":2821.29,"v":1.78},{"p":"c","c":"Ni","e":2821.54,"v":1.82},{"p":"c","c":"Ni","e":2821.79,"v":1.78},{"p":"c","c":"Ni","e":2822.04,"v":1.686},{"p":"c","c":"Ni","e":2822.29,"v":1.594},{"p":"c","c":"Ni","e":2822.54,"v":1.536},{"p":"c","c":"Ni","e":2822.79,"v":1.511},{"p":"c","c":"Ni","e":2823.04,"v":1.502},{"p":"c","c":"Ni","e":2823.29,"v":1.5},{"p":"c","c":"Ni","e":2827,"v":1.5}
],
"labels":[
{"p":"abc","t":"Fe(III)Cl₄⁻","e":2817.25,"v":6.46},
{"p":"abc","t":"Fe(II)Cl₄²⁻","e":2817.25,"v":4.98},
{"p":"abc","t":"CoCl₄²⁻","e":2817.25,"v":3.45},
{"p":"abc","t":"NiCl₄²⁻","e":2817.25,"v":2.0},
{"p":"abc","t":"CuCl₄²⁻","e":2817.25,"v":0.54}
],
"letters":[
{"p":"a","t":"(a)","e":2817.3,"v":7.6},
{"p":"b","t":"(b)","e":2817.3,"v":7.6},
{"p":"c","t":"(c)","e":2817.3,"v":7.6}
]
},
"hconcat":[
{
"width":481,"height":568,
"layer":[
{"data":{"name":"comps"},"transform":[{"filter":"indexof(datum.p,'a')>=0"}],
"mark":{"type":"line","strokeDash":[2.5,3],"strokeWidth":2,"color":"black","interpolate":"monotone"},
"encoding":{
"x":{"field":"e","type":"quantitative","scale":{"domain":[2817,2827],"nice":false,"zero":false},"axis":{"orient":"top","values":[2818,2820,2822,2824,2826],"tickSize":-7,"labels":false,"title":null}},
"y":{"field":"v","type":"quantitative","scale":{"domain":[0,8],"nice":false},"axis":{"orient":"right","values":[1,2,3,4,5,6,7],"tickSize":-7,"labels":false,"title":null}},
"detail":{"field":"c"}}},
{"data":{"name":"solid"},"transform":[{"filter":"indexof(datum.p,'a')>=0"}],
"mark":{"type":"line","strokeWidth":2.3,"color":"black","interpolate":"monotone"},
"encoding":{
"x":{"field":"e","type":"quantitative","scale":{"domain":[2817,2827],"nice":false,"zero":false},"axis":{"orient":"bottom","values":[2818,2820,2822,2824,2826],"format":"d","tickSize":-7,"labelFontSize":20,"labelFontWeight":"bold","labelPadding":21,"title":"Energy (eV)","titleFontSize":25,"titlePadding":9,"titleX":250}},
"y":{"field":"v","type":"quantitative","scale":{"domain":[0,8],"nice":false},"axis":{"orient":"left","values":[1,2,3,4,5,6,7],"tickSize":-7,"labels":false,"title":"Normalized Absorption","titleFontSize":27,"titlePadding":17}},
"detail":{"field":"s"}}},
{"data":{"name":"labels"},
"mark":{"type":"text","align":"left","baseline":"middle","fontSize":17,"fontWeight":"bold","font":"Liberation Sans, DejaVu Sans","color":"black"},
"encoding":{"x":{"field":"e","type":"quantitative","axis":null},"y":{"field":"v","type":"quantitative","axis":null},"text":{"field":"t"}}},
{"data":{"name":"letters"},"transform":[{"filter":"datum.p=='a'"}],
"mark":{"type":"text","align":"left","baseline":"middle","fontSize":24,"font":"Liberation Sans","color":"black"},
"encoding":{"x":{"field":"e","type":"quantitative","axis":null},"y":{"field":"v","type":"quantitative","axis":null},"text":{"field":"t"}}}
],
"resolve":{"axis":{"x":"independent","y":"independent"}}
},
{
"width":481,"height":568,
"layer":[
{"data":{"name":"comps"},"transform":[{"filter":"indexof(datum.p,'b')>=0"}],
"mark":{"type":"line","strokeDash":[2.5,3],"strokeWidth":2,"color":"black","interpolate":"monotone"},
"encoding":{
"x":{"field":"e","type":"quantitative","scale":{"domain":[2817,2827],"nice":false,"zero":false},"axis":{"orient":"top","values":[2818,2820,2822,2824,2826],"tickSize":-7,"labels":false,"title":null}},
"y":{"field":"v","type":"quantitative","scale":{"domain":[0,8],"nice":false},"axis":{"orient":"right","values":[1,2,3,4,5,6,7],"tickSize":-7,"labels":false,"title":null}},
"detail":{"field":"c"}}},
{"data":{"name":"solid"},"transform":[{"filter":"indexof(datum.p,'b')>=0"}],
"mark":{"type":"line","strokeWidth":2.3,"color":"black","interpolate":"monotone"},
"encoding":{
"x":{"field":"e","type":"quantitative","scale":{"domain":[2817,2827],"nice":false,"zero":false},"axis":{"orient":"bottom","values":[2818,2820,2822,2824,2826],"format":"d","tickSize":-7,"labelFontSize":20,"labelFontWeight":"bold","labelPadding":21,"title":"Energy (eV)","titleFontSize":25,"titlePadding":9,"titleX":250}},
"y":{"field":"v","type":"quantitative","scale":{"domain":[0,8],"nice":false},"axis":{"orient":"left","values":[1,2,3,4,5,6,7],"tickSize":-7,"labels":false,"title":null}},
"detail":{"field":"s"}}},
{"data":{"name":"labels"},
"mark":{"type":"text","align":"left","baseline":"middle","fontSize":17,"fontWeight":"bold","font":"Liberation Sans, DejaVu Sans","color":"black"},
"encoding":{"x":{"field":"e","type":"quantitative","axis":null},"y":{"field":"v","type":"quantitative","axis":null},"text":{"field":"t"}}},
{"data":{"name":"letters"},"transform":[{"filter":"datum.p=='b'"}],
"mark":{"type":"text","align":"left","baseline":"middle","fontSize":24,"font":"Liberation Sans","color":"black"},
"encoding":{"x":{"field":"e","type":"quantitative","axis":null},"y":{"field":"v","type":"quantitative","axis":null},"text":{"field":"t"}}}
],
"resolve":{"axis":{"x":"independent","y":"independent"}}
},
{
"width":478,"height":568,
"layer":[
{"data":{"name":"comps"},"transform":[{"filter":"indexof(datum.p,'c')>=0"}],
"mark":{"type":"line","strokeDash":[2.5,3],"strokeWidth":2,"color":"black","interpolate":"monotone"},
"encoding":{
"x":{"field":"e","type":"quantitative","scale":{"domain":[2817,2827],"nice":false,"zero":false},"axis":{"orient":"top","values":[2818,2820,2822,2824,2826],"tickSize":-7,"labels":false,"title":null}},
"y":{"field":"v","type":"quantitative","scale":{"domain":[0,8],"nice":false},"axis":{"orient":"right","values":[1,2,3,4,5,6,7],"tickSize":-7,"labels":false,"title":null}},
"detail":{"field":"c"}}},
{"data":{"name":"solid"},"transform":[{"filter":"indexof(datum.p,'c')>=0"}],
"mark":{"type":"line","strokeWidth":2.3,"color":"black","interpolate":"monotone"},
"encoding":{
"x":{"field":"e","type":"quantitative","scale":{"domain":[2817,2827],"nice":false,"zero":false},"axis":{"orient":"bottom","values":[2818,2820,2822,2824,2826],"format":"d","tickSize":-7,"labelFontSize":20,"labelFontWeight":"bold","labelPadding":21,"title":"Energy (eV)","titleFontSize":25,"titlePadding":9,"titleX":248}},
"y":{"field":"v","type":"quantitative","scale":{"domain":[0,8],"nice":false},"axis":{"orient":"left","values":[1,2,3,4,5,6,7],"tickSize":-7,"labels":false,"title":null}},
"detail":{"field":"s"}}},
{"data":{"name":"labels"},
"mark":{"type":"text","align":"left","baseline":"middle","fontSize":17,"fontWeight":"bold","font":"Liberation Sans, DejaVu Sans","color":"black"},
"encoding":{"x":{"field":"e","type":"quantitative","axis":null},"y":{"field":"v","type":"quantitative","axis":null},"text":{"field":"t"}}},
{"data":{"name":"letters"},"transform":[{"filter":"datum.p=='c'"}],
"mark":{"type":"text","align":"left","baseline":"middle","fontSize":24,"font":"Liberation Sans","color":"black"},
"encoding":{"x":{"field":"e","type":"quantitative","axis":null},"y":{"field":"v","type":"quantitative","axis":null},"text":{"field":"t"}}}
],
"resolve":{"axis":{"x":"independent","y":"independent"}}
}
],
"config":{
"view":{"stroke":"black","strokeWidth":1.6},
"axis":{"grid":false,"domain":false,"tickColor":"black","tickWidth":1.5,"labelColor":"black","titleColor":"black","labelFont":"Liberation Sans","titleFont":"Liberation Sans","titleFontWeight":"normal"},
"line":{"strokeCap":"butt"}
}
}
